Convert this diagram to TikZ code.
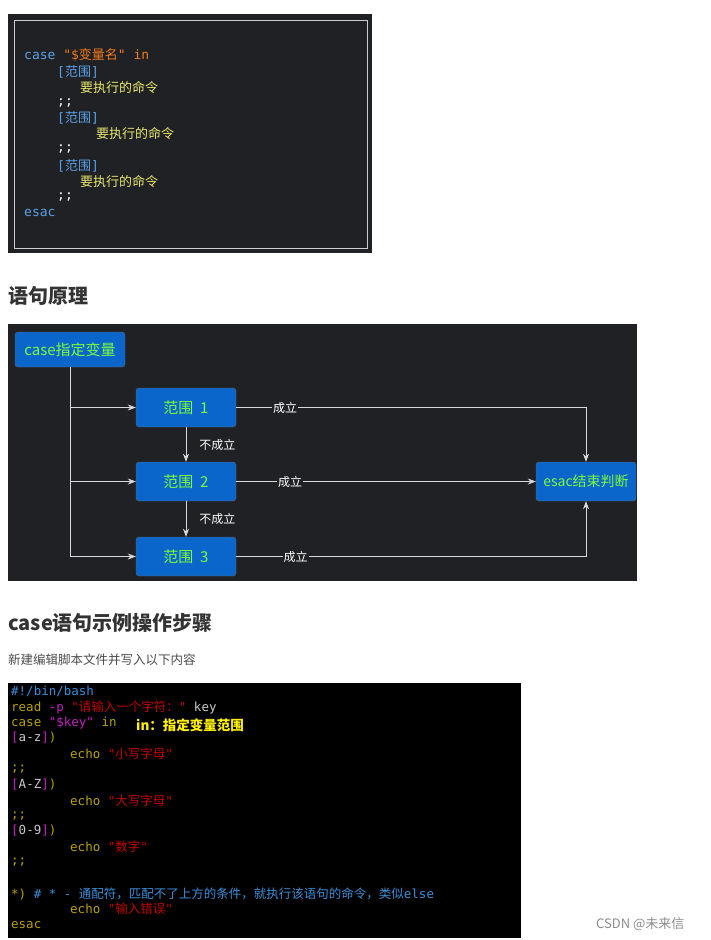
\documentclass[tikz,border=0pt]{standalone}
\usepackage{fontspec}
\setmainfont{Noto Sans CJK SC}
\setmonofont{DejaVu Sans Mono}
\newfontfamily\cjk{Noto Sans CJK SC}
\newcommand\z[1]{{\cjk #1}}
\usetikzlibrary{positioning,arrows.meta}
\definecolor{panel}{HTML}{202124}
\definecolor{boxblue}{HTML}{0B66CC}
\definecolor{lime}{HTML}{7CFC3A}
\definecolor{kw}{HTML}{5AA0E6}
\definecolor{str}{HTML}{F07A1A}
\definecolor{cmd}{HTML}{E8E86A}
\definecolor{tblue}{HTML}{3A8FD8}
\definecolor{tolive}{HTML}{B8A200}
\definecolor{tmag}{HTML}{C020C0}
\definecolor{tred}{HTML}{C00000}
\definecolor{tgray}{HTML}{C8C8C8}
\tikzset{
  code/.style={anchor=west, inner sep=0pt, font=\ttfamily\fontsize{13}{13}\selectfont},
  term/.style={anchor=west, inner sep=0pt, font=\ttfamily\fontsize{12.5}{12.5}\selectfont},
  rangeBox/.style={rectangle, rounded corners=3pt, fill=boxblue, draw=black!60, text=lime,
    minimum width=100pt, minimum height=39pt, font=\fontsize{15}{15}\selectfont},
  flow/.style={draw=white!85!black, line width=0.8pt, -{Stealth[length=8pt,width=6pt]}},
  tag/.style={fill=panel, text=white, inner sep=1pt, font=\fontsize{12}{12}\selectfont},
  head/.style={anchor=west, inner sep=0pt, text=black!80, font=\bfseries\fontsize{20}{20}\selectfont}
}
\begin{document}
\begin{tikzpicture}[x=1pt, y=-1pt]
\useasboundingbox (0,0) rectangle (711,940);
\fill[white] (0,0) rectangle (711,940);
% syntax panel
\fill[panel] (8,14) rectangle (372,253);
\draw[white!80!black, line width=1pt] (14,20) rectangle (367,248);
\node[code, text=kw] (c1) at (24,55) {case \textcolor{str}{"\$\z{变量名}" in}};
\foreach \i/\y/\x in {1/72/80, 2/118/96, 3/166/80} {
  \node[code, text=kw] (r\i) at (57,\y) {[\z{范围}]};
  \node[code, text=cmd] (e\i) at (\x,\y+16) {\z{要执行的命令}};
  \node[code, text=white] (s\i) at (57,\y+31) {;;};
}
\node[code, text=kw] (c2) at (24,213) {esac};
% heading
\node[head] (h1) at (8,296) {语句原理};
% flow panel
\fill[panel] (8,324) rectangle (637,581);
\node[rangeBox, minimum width=110pt, minimum height=35pt] (var) at (70,349.5) {case指定变量};
\node[rangeBox] (rg1) at (186,407.5) {范围\ \ 1};
\node[rangeBox] (rg2) at (186,481.5) {范围\ \ 2};
\node[rangeBox] (rg3) at (186,556.5) {范围\ \ 3};
\node[rangeBox, font=\fontsize{14}{14}\selectfont] (end) at (586,481.5) {esac结束判断};
\draw[flow] (var.south) |- (rg3.west);
\draw[flow] (var.south) |- (rg1.west);
\draw[flow] (var.south) |- (rg2.west);
\draw[flow] (rg1) -- node[tag, right=12pt, pos=0.5] (n1) {不成立} (rg2);
\draw[flow] (rg2) -- node[tag, right=12pt, pos=0.5] (n2) {不成立} (rg3);
\draw[flow] (rg1.east) -- node[tag, pos=0.14] (y1) {成立} (rg1.east -| end) -- (end.north);
\draw[flow] (rg2.east) -- node[tag, pos=0.18] (y2) {成立} (end.west);
\draw[flow] (rg3.east) -- node[tag, pos=0.17] (y3) {成立} (rg3.east -| end) -- (end.south);
% example heading
\node[head] (h2) at (8,623) {case语句示例操作步骤};
\node[anchor=west, inner sep=0pt, text=black!70, font=\fontsize{12.5}{12.5}\selectfont] (intro) at (8,660) {新建编辑脚本文件并写入以下内容};
% terminal panel
\fill[black] (8,683) rectangle (521,938);
\node[term, text=tblue] (t1) at (11,691) {\#!/bin/bash};
\node[term, text=tolive] (t2) at (11,707) {read \textcolor{tmag}{-p} \textcolor{tred}{"\z{请输入一个字符：}"} \textcolor{tgray}{key}};
\node[term, text=tolive] (t3) at (11,723) {case \textcolor{tmag}{"\$key"} in};
\node[anchor=west, inner sep=0pt, text=yellow, font=\bfseries\fontsize{13.5}{13.5}\selectfont] (note) at (136,725) {in：指定变量范围};
\foreach \i/\y/\r/\w in {1/738/a-z/小写字母, 2/785/A-Z/大写字母, 3/831/0-9/数字} {
  \node[term, text=tmag] (p\i) at (11,\y) {[\textcolor{tgray}{\r}]\textcolor{tolive}{)}};
  \node[term, text=tolive] (o\i) at (70,\y+16) {echo \textcolor{tred}{"\z{\w}"}};
  \node[term, text=tolive] (q\i) at (11,\y+31) {;;};
}
\node[term, text=tolive] (t4) at (11,894) {*) \textcolor{tblue}{\# * - \z{通配符，匹配不了上方的条件，就执行该语句的命令，类似}else}};
\node[term, text=tolive] (t5) at (70,909) {echo \textcolor{tred}{"\z{输入错误}"}};
\node[term, text=tolive] (t6) at (11,925) {esac};
\node[anchor=west, inner sep=0pt, text=black!45, font=\fontsize{13}{13}\selectfont] (mark) at (596,924) {CSDN @未来信};
\end{tikzpicture}
\end{document}
